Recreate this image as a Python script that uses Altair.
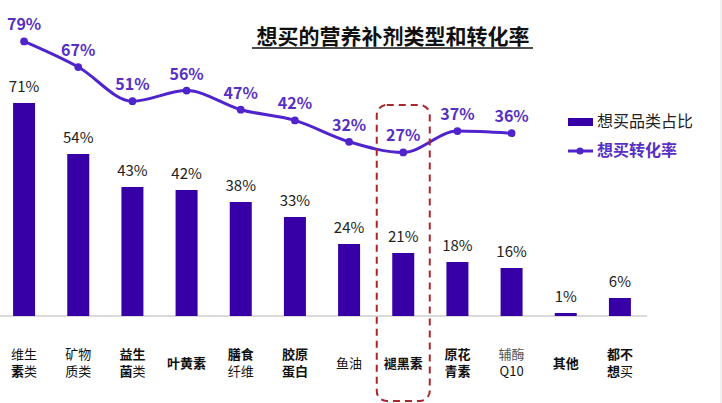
import altair as alt
import pandas as pd

# ---- data ----
categories = ["维生素类", "矿物质类", "益生菌类", "叶黄素", "膳食纤维", "胶原蛋白",
              "鱼油", "褪黑素", "原花青素", "辅酶Q10", "其他", "都不想买"]
share = [71, 54, 43, 42, 38, 33, 24, 21, 18, 16, 1, 6]          # 想买品类占比 (%)
conv_categories = categories[:10]
conversion = [79, 67, 51, 56, 47, 42, 32, 27, 37, 36]            # 想买转化率 (%)
highlight = "褪黑素"
title_text = "想买的营养补剂类型和转化率"
legend_bar = "想买品类占比"
legend_line = "想买转化率"

# x-label pieces: (category, line, text, weight, align); line 1 = upper, 2 = lower, 1.5 = single line
label_pieces = [
    ("维生素类", 1, "维生", "normal", "center"), ("维生素类", 2, "素", "bold", "right"), ("维生素类", 2, "类", "normal", "left"),
    ("矿物质类", 1, "矿物", "normal", "center"), ("矿物质类", 2, "质类", "normal", "center"),
    ("益生菌类", 1, "益生", "bold", "center"), ("益生菌类", 2, "菌", "bold", "right"), ("益生菌类", 2, "类", "normal", "left"),
    ("叶黄素", 1.5, "叶黄素", "bold", "center"),
    ("膳食纤维", 1, "膳食", "bold", "center"), ("膳食纤维", 2, "纤维", "normal", "center"),
    ("胶原蛋白", 1, "胶原", "bold", "center"), ("胶原蛋白", 2, "蛋白", "bold", "center"),
    ("鱼油", 1.5, "鱼油", "normal", "center"),
    ("褪黑素", 1.5, "褪黑素", "bold", "center"),
    ("原花青素", 1, "原花", "bold", "center"), ("原花青素", 2, "青素", "bold", "center"),
    ("辅酶Q10", 1, "辅酶", "normal", "center"), ("辅酶Q10", 2, "Q10", "normal", "center"),
    ("其他", 1.5, "其他", "bold", "center"),
    ("都不想买", 1, "都不", "bold", "center"), ("都不想买", 2, "想", "bold", "right"), ("都不想买", 2, "买", "normal", "left"),
]

bar_df = pd.DataFrame({"cat": categories, "share": share})
line_df = pd.DataFrame({"cat": conv_categories, "conv": conversion})
lab_df = pd.DataFrame(label_pieces, columns=["cat", "row", "text", "weight", "align"])

FONT = "Noto Sans CJK SC"
BAR_COLOR = "#3600A6"
LINE_COLOR = "#5024CC"
LABEL_PURPLE = "#5630C4"

xenc = alt.X("cat:N", sort=categories,
             scale=alt.Scale(domain=categories, range=[-3, 647], paddingInner=0, paddingOuter=0),
             axis=None)
ybar = alt.Y("share:Q", scale=alt.Scale(domain=[0, 100], nice=False, zero=True), axis=None)
yline = alt.Y("conv:Q", scale=alt.Scale(domain=[-49.6, 90.9], nice=False, zero=False), axis=None)

bars = alt.Chart(bar_df).mark_bar(width=22, color=BAR_COLOR).encode(x=xenc, y=ybar)
bar_text = alt.Chart(bar_df).transform_calculate(lbl="datum.share + '%'").mark_text(
    dy=-11, fontSize=15, font=FONT, color="#222222", baseline="alphabetic").encode(
    x=xenc, y=ybar, text="lbl:N")

baseline_rule = alt.Chart(bar_df).mark_rule(color="#D9D9D9", strokeWidth=1).encode(
    x=alt.value(0), x2=alt.value(647),
    y=alt.YDatum(datum=0, scale=alt.Scale(domain=[0, 100], nice=False), axis=None))

line = alt.Chart(line_df).mark_line(color=LINE_COLOR, strokeWidth=3, interpolate="monotone").encode(
    x=xenc, y=yline)
points = alt.Chart(line_df).mark_point(filled=True, size=60, color=LINE_COLOR, opacity=1).encode(
    x=xenc, y=yline)
line_text = alt.Chart(line_df).transform_calculate(lbl="datum.conv + '%'").mark_text(
    dy=-11, fontSize=16, fontWeight="bold", font=FONT, color=LABEL_PURPLE, baseline="alphabetic").encode(
    x=xenc, y=yline, text="lbl:N")

box = alt.Chart(pd.DataFrame({"cat": [highlight]})).mark_bar(
    width=53, fillOpacity=0, stroke="#A8262C", strokeWidth=2, strokeDash=[7, 5], cornerRadius=10).encode(
    x=xenc, y=alt.value(89), y2=alt.value(385))

row_y = alt.Y("row:Q", scale=alt.Scale(domain=[1, 2], range=[339, 356], nice=False, zero=False), axis=None)
label_layers = []
for w in ["bold", "normal"]:
    for a in ["center", "right", "left"]:
        label_layers.append(
            alt.Chart(lab_df).transform_filter(
                f"datum.weight == '{w}' && datum.align == '{a}'").mark_text(
                fontSize=13, font=FONT, fontWeight=w, align=a, baseline="middle").encode(
                x=xenc, y=row_y, text="text:N",
                color=alt.condition("datum.text == '辅酶'", alt.value("#555555"), alt.value("#111111"))))

one = pd.DataFrame({"t": [0]})
title = alt.Chart(one).mark_text(text=title_text, fontSize=21, fontWeight="bold", font=FONT,
                                 color="#111111", baseline="middle").encode(x=alt.value(393), y=alt.value(22))
underline = alt.Chart(one).mark_rule(color="#111111", strokeWidth=1.5).encode(
    x=alt.value(252), x2=alt.value(533), y=alt.value(32))

leg_rect = alt.Chart(one).mark_rect(color=BAR_COLOR).encode(
    x=alt.value(568), x2=alt.value(593), y=alt.value(102), y2=alt.value(110))
leg_text1 = alt.Chart(one).mark_text(text=legend_bar, fontSize=16, font=FONT, color="#222222",
                                     align="left", baseline="middle").encode(x=alt.value(597), y=alt.value(106))
leg_line = alt.Chart(one).mark_rule(color=LINE_COLOR, strokeWidth=3).encode(
    x=alt.value(568), x2=alt.value(593), y=alt.value(135))
leg_pt = alt.Chart(one).mark_point(filled=True, size=50, color=LINE_COLOR, opacity=1).encode(
    x=alt.value(580), y=alt.value(135))
leg_text2 = alt.Chart(one).mark_text(text=legend_line, fontSize=16, fontWeight="bold", font=FONT,
                                     color=LABEL_PURPLE, align="left", baseline="middle").encode(
    x=alt.value(597), y=alt.value(135))
edge = alt.Chart(one).mark_rule(color="#E3E3E3", strokeWidth=1).encode(
    x=alt.value(721), y=alt.value(-16), y2=alt.value(387))

chart = alt.layer(
    baseline_rule, bars, bar_text, line, points, line_text, box, *label_layers,
    title, underline, leg_rect, leg_text1, leg_line, leg_pt, leg_text2, edge
).resolve_scale(y="independent").properties(
    width=648, height=300,
    background="white",
    autosize=alt.AutoSizeParams(type="none"),
    padding={"left": 0, "top": 16, "right": 74, "bottom": 87},
).configure_view(stroke=None)

chart.save("out.html", embed_options={"renderer": "svg", "actions": False})
